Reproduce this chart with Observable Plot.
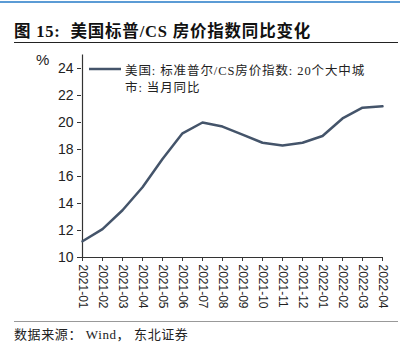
<!DOCTYPE html>
<html><head><meta charset="utf-8">
<script src="https://cdn.jsdelivr.net/npm/d3@7"></script>
<script src="https://cdn.jsdelivr.net/npm/@observablehq/plot@0.6"></script>
<style>
html,body{margin:0;padding:0;background:#fff;width:409px;height:351px;overflow:hidden;position:relative;}
.topbar{position:absolute;left:0;top:1px;width:400px;height:2px;background:#5b9bd5;}
.title{position:absolute;left:14px;top:18px;font-family:"Liberation Serif","Noto Sans CJK SC",serif;font-weight:bold;font-size:16.5px;letter-spacing:0.8px;color:#111;white-space:nowrap;}
.rule1{position:absolute;left:14px;top:42px;width:384px;height:1px;background:#222;}
.rule2{position:absolute;left:14px;top:321px;width:384px;height:1px;background:#999;}
.caption{position:absolute;left:14px;top:324px;font-family:"Liberation Serif","Noto Sans CJK SC",serif;font-size:13px;letter-spacing:0.6px;color:#222;white-space:nowrap;}
.pct{position:absolute;left:36px;top:51px;font-family:"Liberation Sans",sans-serif;font-size:15px;color:#222;}
#chart{position:absolute;left:0;top:44px;}
</style></head>
<body>
<div class="topbar"></div>
<div class="title">图 15:&nbsp; 美国标普/CS 房价指数同比变化</div>
<div class="rule1"></div>
<div class="pct">%</div>
<div id="chart"></div>
<div class="rule2"></div>
<div class="caption">数据来源：&nbsp;Wind，&nbsp;东北证券</div>
<script>
const months = ["2021-01","2021-02","2021-03","2021-04","2021-05","2021-06","2021-07","2021-08","2021-09","2021-10","2021-11","2021-12","2022-01","2022-02","2022-03","2022-04"];
const values = [11.2,12.1,13.5,15.2,17.3,19.2,20.0,19.7,19.1,18.5,18.3,18.5,19.0,20.3,21.1,21.2];
const yTicks = [10,12,14,16,18,20,22,24];
const legendLines = ["美国: 标准普尔/CS房价指数: 20个大中城", "市: 当月同比"];

const data = months.map((m,i)=>({m, v: values[i]}));
const color = "#44546a";

const plot = Plot.plot({
  width: 409,
  height: 278,
  marginLeft: 81,
  marginRight: 26,
  marginTop: 24,
  marginBottom: 65,
  style: {fontFamily: "Liberation Sans, sans-serif", fontSize: "12px", color: "#222", overflow: "visible"},
  x: {type: "point", domain: months, padding: 0, label: null},
  y: {domain: [10,24], label: null},
  marks: [
    Plot.axisY({ticks: yTicks, tickSize: 4, tickPadding: 4, fontSize: 14, label: null, stroke: "#333"}),
    Plot.axisX({tickSize: 4, tickPadding: 3, tickRotate: 90, fontSize: 12, label: null, stroke: "#333"}),
    Plot.ruleX([months[0]], {y1: 10, y2: 25, stroke: "#333", strokeWidth: 1.2}),
    Plot.ruleY([10], {stroke: "#333", strokeWidth: 1.2}),
    Plot.line(data, {x: "m", y: "v", stroke: color, strokeWidth: 2.5})
  ]
});
document.getElementById("chart").appendChild(plot);

// legend inside plot
const svg = d3.select(plot);
const g = svg.append("g").attr("text-anchor", "start");
g.append("line").attr("x1", 89).attr("x2", 121).attr("y1", 25).attr("y2", 25)
  .attr("stroke", color).attr("stroke-width", 2.5);
g.selectAll("text.lg").data(legendLines).join("text")
  .attr("class", "lg")
  .attr("x", 125).attr("y", (d,i)=>31 + i*16.5)
  .attr("text-anchor", "start")
  .attr("font-family", "Liberation Serif, Noto Sans CJK SC, serif")
  .attr("font-size", 12.5).attr("letter-spacing", 0.9).attr("fill", "#222")
  .text(d=>d);
</script>
</body></html>
